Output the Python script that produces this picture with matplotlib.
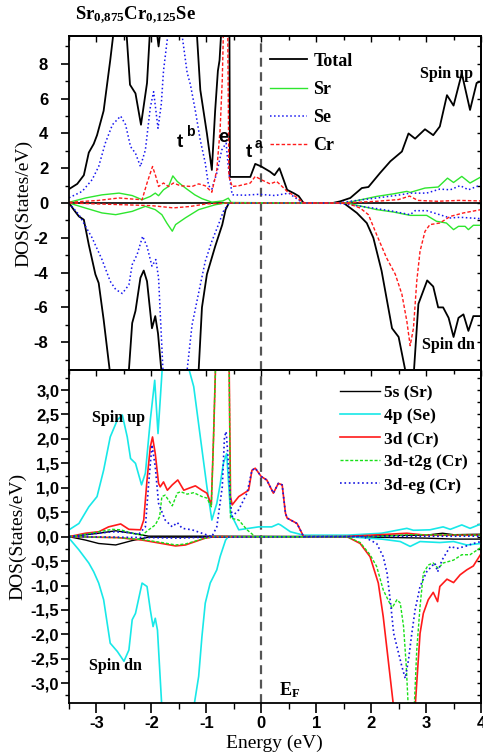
import numpy as np
import matplotlib
matplotlib.use('Agg')
import matplotlib.pyplot as plt
from matplotlib.ticker import MultipleLocator, FuncFormatter

plt.rcParams['font.family'] = 'Liberation Serif'
plt.rcParams['font.weight'] = 'bold'
plt.rcParams['axes.unicode_minus'] = False
plt.rcParams['mathtext.fontset'] = 'custom'
plt.rcParams['mathtext.bf'] = 'Liberation Serif:bold'
plt.rcParams['mathtext.rm'] = 'Liberation Serif:bold'
plt.rcParams['mathtext.it'] = 'Liberation Serif:bold'

# ---- top panel: total and atom-projected DOS (energy, DOS) ----
total_up = [(-3.5, 0.8), (-3.35, 1.1), (-3.23, 1.6), (-3.14, 2.9), (-3.05, 3.4), (-2.99, 3.9),
            (-2.87, 5.3), (-2.75, 8.2), (-2.69, 9.8), (-2.6, 12), (-2.5, 12), (-2.45, 9.6),
            (-2.39, 6.8), (-2.29, 6.3), (-2.19, 4.5), (-2.08, 6.9), (-2.03, 9.7), (-1.95, 12),
            (-1.9, 9.8), (-1.87, 9.0), (-1.84, 9.8), (-1.75, 13), (-1.4, 14), (-1.2, 12),
            (-1.17, 9.6), (-1.11, 6.5), (-0.99, 4.0), (-0.9, 1.9), (-0.84, 5.3), (-0.79, 7.6),
            (-0.76, 8.2), (-0.73, 9.8), (-0.65, 14), (-0.58, 9.8), (-0.57, 1.5), (-0.53, 1.5),
            (-0.2, 1.5), (-0.11, 2.25), (0.0, 2.1), (0.16, 1.8), (0.24, 1.6), (0.33, 2.0),
            (0.41, 1.3), (0.47, 0.76), (0.6, 0.55), (0.68, 0.4), (0.77, 0.0), (1.3, 0.0),
            (1.44, 0.1), (1.62, 0.29), (1.83, 0.86), (1.95, 0.92), (2.16, 1.72), (2.35, 2.4),
            (2.56, 2.96), (2.68, 4.0), (2.8, 3.7), (2.98, 4.24), (3.13, 3.9), (3.25, 4.4),
            (3.38, 6.2), (3.5, 5.6), (3.65, 7.45), (3.8, 5.35), (3.92, 6.9), (4.0, 7.0)]
total_dn = [(-3.5, 0.0), (-3.41, -0.4), (-3.32, -0.77), (-3.23, -0.96), (-3.14, -2.4), (-3.02, -4.1),
            (-2.96, -4.6), (-2.87, -6.7), (-2.76, -9.6), (-2.6, -12), (-2.45, -12), (-2.41, -9.6),
            (-2.35, -6.9), (-2.29, -6.2), (-2.2, -4.3), (-2.14, -3.88), (-2.08, -4.5), (-1.99, -7.2),
            (-1.93, -6.5), (-1.88, -7.5), (-1.82, -9.6), (-1.7, -13), (-1.3, -13), (-1.14, -9.6),
            (-1.08, -6.0), (-0.99, -4.1), (-0.84, -2.5), (-0.71, -1.24), (-0.65, -0.38), (-0.59, 0.0),
            (1.5, 0.0), (1.74, -0.57), (1.92, -1.15), (2.04, -2.0), (2.19, -3.9), (2.38, -7.2),
            (2.5, -7.7), (2.62, -9.6), (2.7, -12), (2.78, -9.6), (2.86, -5.8), (3.02, -4.45),
            (3.13, -4.8), (3.22, -6.0), (3.31, -6.0), (3.41, -6.6), (3.5, -7.7), (3.59, -6.6),
            (3.68, -6.4), (3.77, -7.35), (3.86, -6.5), (4.0, -6.5)]
sr_up = [(-3.5, 0.04), (-3.2, 0.29), (-2.9, 0.47), (-2.59, 0.57), (-2.35, 0.43), (-2.17, 0.19),
         (-2.02, 0.38), (-1.93, 0.57), (-1.87, 0.42), (-1.78, 0.76), (-1.69, 0.95), (-1.61, 1.56),
         (-1.53, 1.24), (-1.38, 0.86), (-1.21, 0.47), (-1.08, 0.25), (-0.9, 0.05), (-0.7, 0.12),
         (-0.6, 0.28), (-0.55, 0.03), (0.7, 0.0), (1.5, 0.0), (1.68, 0.1), (2.1, 0.38),
         (2.41, 0.53), (2.65, 0.67), (2.71, 0.61), (2.98, 0.86), (3.22, 0.92), (3.39, 1.43),
         (3.5, 1.18), (3.65, 1.53), (3.8, 1.15), (3.98, 1.47), (4.0, 1.47)]
sr_dn = [(-3.5, 0.0), (-3.2, -0.29), (-2.9, -0.57), (-2.65, -0.67), (-2.35, -0.48), (-2.11, -0.19),
         (-1.93, -0.38), (-1.81, -0.67), (-1.72, -1.15), (-1.62, -1.62), (-1.56, -1.24),
         (-1.38, -0.85), (-1.14, -0.38), (-0.84, -0.1), (-0.65, 0.0), (1.56, 0.0), (2.1, -0.38),
         (2.41, -0.52), (2.71, -0.71), (3.01, -0.71), (3.19, -1.05), (3.37, -1.15), (3.5, -1.53),
         (3.59, -1.34), (3.71, -1.34), (3.77, -1.53), (3.86, -1.28), (4.0, -1.28)]
se_up = [(-3.5, 0.3), (-3.26, 0.67), (-3.08, 1.34), (-2.96, 2.1), (-2.84, 3.44), (-2.71, 4.5),
         (-2.56, 5.0), (-2.47, 4.5), (-2.38, 3.24), (-2.29, 2.86), (-2.2, 2.1), (-2.11, 3.05),
         (-2.02, 5.5), (-1.96, 6.4), (-1.88, 4.3), (-1.82, 5.7), (-1.78, 7.6), (-1.7, 9.7),
         (-1.6, 12), (-1.5, 11), (-1.44, 9.6), (-1.35, 7.5), (-1.29, 6.8), (-1.2, 5.3),
         (-1.11, 3.6), (-1.02, 2.3), (-0.96, 1.0), (-0.9, 0.8), (-0.81, 1.72), (-0.72, 3.05),
         (-0.64, 3.44), (-0.59, 1.72), (-0.53, 0.47), (-0.3, 0.45), (-0.05, 0.5), (0.25, 0.43),
         (0.5, 0.57), (0.62, 0.3), (0.74, 0.04), (0.8, 0.0), (1.4, 0.0), (1.62, 0.1), (2.1, 0.29),
         (2.53, 0.47), (2.71, 0.57), (3.01, 0.57), (3.25, 0.8), (3.44, 0.76), (3.62, 1.0),
         (3.77, 0.76), (4.0, 1.05)]
se_dn = [(-3.5, 0.0), (-3.32, -0.67), (-3.08, -2.0), (-2.9, -3.25), (-2.75, -4.5), (-2.65, -4.97),
         (-2.53, -5.2), (-2.41, -4.7), (-2.35, -3.54), (-2.26, -2.96), (-2.16, -1.91), (-2.08, -2.5),
         (-1.99, -3.63), (-1.92, -3.25), (-1.87, -4.3), (-1.79, -9.6), (-1.7, -12), (-1.45, -12),
         (-1.35, -9.6), (-1.26, -7.0), (-1.11, -4.7), (-1.02, -3.35), (-0.9, -2.2), (-0.78, -1.24),
         (-0.69, -0.48), (-0.59, 0.0), (1.4, 0.0), (1.5, -0.06), (2.04, -0.29), (2.41, -0.48),
         (2.71, -0.67), (2.8, -0.44), (3.01, -0.44), (3.44, -0.86), (3.62, -0.82), (4.0, -0.9)]
cr_up = [(-3.5, 0.04), (-2.96, 0.15), (-2.59, 0.29), (-2.35, 0.23), (-2.17, 0.19), (-2.08, 1.15),
         (-1.98, 2.1), (-1.92, 1.53), (-1.87, 0.95), (-1.78, 1.15), (-1.69, 0.95), (-1.6, 1.15),
         (-1.47, 0.99), (-1.26, 0.95), (-1.14, 1.1), (-1.02, 0.99), (-0.9, 0.62), (-0.81, 1.9),
         (-0.75, 4.2), (-0.71, 7.1), (-0.69, 9.8), (-0.65, 12), (-0.61, 9.8), (-0.59, 1.53),
         (-0.53, 0.95), (-0.41, 0.99), (-0.2, 1.15), (-0.11, 1.53), (0.0, 1.34), (0.16, 1.1),
         (0.28, 1.24), (0.38, 0.95), (0.47, 0.67), (0.62, 0.38), (0.74, 0.09), (0.8, 0.0),
         (1.5, 0.0), (2.1, 0.1), (2.5, 0.2), (2.7, 0.4), (2.85, 0.15), (3.2, 0.1), (3.6, 0.15),
         (4.0, 0.12)]
cr_dn = [(-3.5, 0.0), (-2.5, -0.1), (-2.0, -0.15), (-1.6, -0.28), (-1.3, -0.2), (-1.0, -0.05),
         (-0.6, 0.0), (1.56, 0.0), (1.8, -0.29), (1.95, -0.67), (2.1, -1.82), (2.28, -3.15),
         (2.44, -4.1), (2.56, -5.25), (2.65, -6.8), (2.71, -8.2), (2.77, -7.2), (2.83, -4.5),
         (2.89, -2.77), (2.98, -1.63), (3.07, -1.24), (3.25, -1.15), (3.44, -0.77), (3.68, -0.57),
         (4.0, -0.38)]

# ---- bottom panel: orbital-projected DOS ----
s5_up = [(-3.5, 0.0), (-2.96, 0.07), (-2.65, 0.12), (-2.35, 0.07), (-2.05, 0.01), (-1.0, 0.01),
         (1.0, 0.0), (2.0, 0.02), (3.0, 0.03), (3.3, 0.07), (3.5, 0.04), (4.0, 0.05)]
s5_dn = [(-3.5, 0.0), (-3.2, -0.07), (-2.96, -0.14), (-2.65, -0.17), (-2.35, -0.08), (-2.05, -0.01),
         (-1.0, -0.01), (1.0, 0.0), (2.0, -0.01), (3.0, -0.03), (3.5, -0.05), (4.0, -0.05)]
p4_up = [(-3.5, 0.14), (-3.32, 0.27), (-3.14, 0.61), (-2.99, 0.82), (-2.87, 1.36), (-2.75, 2.04),
         (-2.62, 2.39), (-2.53, 2.49), (-2.44, 2.04), (-2.38, 1.6), (-2.29, 1.5), (-2.18, 1.06),
         (-2.11, 1.3), (-2.02, 2.39), (-1.94, 3.2), (-1.88, 2.11), (-1.84, 2.8), (-1.8, 3.5),
         (-1.6, 4.5), (-1.4, 4.0), (-1.31, 3.4), (-1.23, 3.07), (-1.11, 2.04), (-0.99, 1.02),
         (-0.9, 0.34), (-0.81, 0.68), (-0.75, 1.06), (-0.69, 1.5), (-0.63, 1.7), (-0.56, 0.48),
         (-0.41, 0.14), (-0.05, 0.2), (0.19, 0.2), (0.31, 0.26), (0.35, 0.24), (0.53, 0.1),
         (0.77, 0.03), (1.56, 0.03), (2.19, 0.07), (2.65, 0.17), (2.77, 0.13), (3.07, 0.14),
         (3.31, 0.2), (3.44, 0.15), (3.65, 0.24), (3.8, 0.17), (4.0, 0.26)]
p4_dn = [(-3.5, -0.03), (-3.32, -0.27), (-3.14, -0.54), (-3.05, -0.72), (-2.96, -0.95),
         (-2.87, -1.29), (-2.75, -2.18), (-2.62, -2.35), (-2.5, -2.55), (-2.41, -2.32),
         (-2.35, -1.7), (-2.29, -1.57), (-2.17, -0.95), (-2.08, -1.02), (-2.02, -1.5),
         (-1.97, -1.84), (-1.93, -1.67), (-1.89, -1.91), (-1.81, -3.5), (-1.7, -4.5),
         (-1.35, -4.5), (-1.23, -3.5), (-1.14, -2.86), (-1.08, -2.04), (-1.02, -1.36),
         (-0.93, -0.95), (-0.81, -0.68), (-0.75, -0.41), (-0.65, -0.07), (-0.6, 0.0), (1.56, 0.0),
         (2.19, -0.05), (2.53, -0.1), (2.71, -0.2), (2.89, -0.1), (3.25, -0.12), (3.5, -0.1),
         (3.74, -0.17), (4.0, -0.14)]
d3_up = [(-3.5, 0.0), (-3.2, 0.07), (-2.96, 0.1), (-2.78, 0.2), (-2.56, 0.26), (-2.41, 0.15),
         (-2.2, 0.14), (-2.14, 0.34), (-2.08, 1.16), (-2.02, 1.84), (-1.98, 2.04), (-1.93, 1.7),
         (-1.87, 1.09), (-1.84, 1.02), (-1.78, 1.12), (-1.71, 0.95), (-1.62, 1.06), (-1.52, 1.16),
         (-1.41, 0.95), (-1.32, 0.99), (-1.2, 1.04), (-1.08, 0.95), (-0.99, 0.89), (-0.91, 0.65),
         (-0.87, 2.0), (-0.82, 4.0), (-0.76, 7.0), (-0.72, 11), (-0.66, 12), (-0.61, 10),
         (-0.59, 4.0), (-0.56, 0.82), (-0.53, 0.65), (-0.41, 0.82), (-0.23, 0.95), (-0.17, 1.36),
         (-0.11, 1.4), (0.0, 1.23), (0.1, 1.16), (0.22, 0.89), (0.31, 1.09), (0.38, 1.06),
         (0.44, 0.48), (0.47, 0.38), (0.65, 0.27), (0.74, 0.07), (0.77, 0.0), (1.5, 0.0),
         (2.0, 0.03), (2.65, 0.07), (3.0, 0.03), (4.0, 0.03)]
d3_dn = [(-3.5, 0.0), (-2.6, -0.02), (-2.17, -0.07), (-1.81, -0.14), (-1.56, -0.19), (-1.38, -0.17),
         (-1.2, -0.1), (-1.02, -0.03), (-0.85, 0.0), (1.56, 0.0), (1.8, -0.14), (1.98, -0.41),
         (2.13, -0.95), (2.22, -1.64), (2.31, -2.52), (2.41, -3.5), (2.5, -5.0), (2.62, -7.0),
         (2.71, -8.2), (2.77, -6.0), (2.8, -3.5), (2.89, -1.98), (2.95, -1.57), (3.04, -1.29),
         (3.13, -1.14), (3.21, -1.33), (3.25, -1.02), (3.38, -0.87), (3.5, -0.94), (3.62, -0.78),
         (3.74, -0.68), (3.86, -0.6), (4.0, -0.35)]
t2g_up = [(-3.5, 0.0), (-3.2, 0.05), (-2.96, 0.1), (-2.71, 0.15), (-2.56, 0.14), (-2.35, 0.07),
          (-2.17, 0.03), (-2.05, 0.14), (-1.93, 0.24), (-1.85, 0.41), (-1.81, 0.82), (-1.75, 0.85),
          (-1.62, 0.63), (-1.53, 0.89), (-1.47, 0.92), (-1.35, 0.87), (-1.23, 0.9), (-1.08, 0.82),
          (-0.99, 0.79), (-0.91, 0.61), (-0.87, 2.0), (-0.82, 4.0), (-0.72, 8.0), (-0.66, 9.0),
          (-0.61, 8.0), (-0.59, 4.0), (-0.56, 0.38), (-0.41, 0.34), (-0.26, 0.14), (-0.11, 0.0),
          (2.0, 0.0), (2.7, 0.04), (4.0, 0.03)]
t2g_dn = [(-3.5, 0.0), (-2.6, -0.02), (-2.17, -0.06), (-1.81, -0.12), (-1.56, -0.17), (-1.38, -0.15),
          (-1.2, -0.09), (-1.02, -0.03), (-0.85, 0.0), (1.56, 0.0), (1.8, -0.12), (1.98, -0.37),
          (2.1, -0.61), (2.22, -1.09), (2.38, -1.46), (2.47, -1.29), (2.53, -1.36), (2.59, -1.84),
          (2.64, -2.66), (2.68, -3.6), (2.73, -4.2), (2.78, -3.6), (2.83, -2.32), (2.89, -1.43),
          (2.95, -0.75), (3.04, -0.58), (3.13, -0.54), (3.22, -0.65), (3.31, -0.54), (3.5, -0.48),
          (3.65, -0.37), (3.8, -0.37), (4.0, -0.22)]
eg_up = [(-3.5, 0.0), (-2.96, 0.07), (-2.71, 0.1), (-2.47, 0.09), (-2.23, 0.05), (-2.11, 0.2),
         (-2.05, 1.09), (-1.99, 1.88), (-1.93, 1.43), (-1.87, 0.68), (-1.75, 0.34), (-1.62, 0.2),
         (-1.53, 0.29), (-1.44, 0.17), (-1.26, 0.14), (-1.08, 0.07), (-0.9, 0.0), (-0.81, 0.2),
         (-0.71, 1.02), (-0.67, 2.04), (-0.64, 2.15), (-0.61, 1.7), (-0.56, 0.68), (-0.53, 0.41),
         (-0.41, 0.55), (-0.26, 0.89), (-0.17, 1.36), (-0.11, 1.4), (0.0, 1.23), (0.1, 1.16),
         (0.22, 0.89), (0.31, 1.09), (0.38, 1.06), (0.44, 0.48), (0.47, 0.38), (0.65, 0.27),
         (0.74, 0.07), (0.77, 0.0), (4.0, 0.01)]
eg_dn = [(-3.5, 0.0), (-2.0, -0.02), (-1.5, -0.03), (-1.0, -0.01), (1.86, 0.0), (2.1, -0.14),
         (2.22, -0.41), (2.29, -0.75), (2.36, -1.43), (2.41, -1.98), (2.5, -2.39), (2.56, -2.66),
         (2.62, -2.9), (2.68, -2.52), (2.74, -1.98), (2.8, -1.5), (2.89, -1.02), (3.01, -0.72),
         (3.1, -0.61), (3.16, -0.54), (3.21, -0.72), (3.29, -0.48), (3.44, -0.2), (3.56, -0.24),
         (3.71, -0.2), (3.86, -0.14), (4.0, -0.1)]


def xy(pts):
    a = np.array(pts, dtype=float)
    return a[:, 0], a[:, 1]


fig = plt.figure(figsize=(4.83, 7.55), dpi=100)
ax1 = fig.add_axes([0.1429, 0.5099, 0.853, 0.4424])
ax2 = fig.add_axes([0.1429, 0.0685, 0.853, 0.4414])

# top panel
ax1.axhline(0, color='black', lw=1.2, zorder=1)
top_series = [
    ('Total', total_up, total_dn, dict(color='black', lw=1.3)),
    ('Sr', sr_up, sr_dn, dict(color='#2ee62e', lw=1.0)),
    ('Se', se_up, se_dn, dict(color='#1515f0', lw=1.1, ls=':')),
    ('Cr', cr_up, cr_dn, dict(color='#ff1a1a', lw=1.0, dashes=(2.5, 1.5))),
]
handles1 = []
for name, up, dn, st in top_series:
    h, = ax1.plot(*xy(up), label=name, **st)
    ax1.plot(*xy(dn), **st)
    handles1.append(h)

# bottom panel
bot_series = [
    ('5s (Sr)', s5_up, s5_dn, dict(color='black', lw=1.0)),
    ('4p (Se)', p4_up, p4_dn, dict(color='#18e8e8', lw=1.2)),
    ('3d (Cr)', d3_up, d3_dn, dict(color='#ff1a1a', lw=1.2)),
    ('3d-t2g (Cr)', t2g_up, t2g_dn, dict(color='#18e018', lw=1.0, dashes=(2.2, 1.3))),
    ('3d-eg (Cr)', eg_up, eg_dn, dict(color='#1515e0', lw=1.2, ls=':')),
]
handles2 = []
for name, up, dn, st in bot_series:
    h, = ax2.plot(*xy(up), label=name, **st)
    ax2.plot(*xy(dn), **st)
    handles2.append(h)

for ax in (ax1, ax2):
    ax.axvline(0, color='#555555', lw=1.6, dashes=(4, 2.5), zorder=0)
    ax.set_xlim(-3.5, 4)
    ax.xaxis.set_major_locator(MultipleLocator(1))
    ax.xaxis.set_minor_locator(MultipleLocator(0.5))
    ax.tick_params(axis='y', which='major', direction='out', length=6, width=1.2)
    ax.tick_params(axis='y', which='minor', direction='out', length=3, width=1.0)
    ax.tick_params(axis='x', which='major', direction='out', length=7, width=1.2)
    ax.tick_params(axis='x', which='minor', direction='out', length=4, width=1.0)
    ax.tick_params(which='both', labelsize=12, labelfontfamily='Liberation Sans')
    for s in ax.spines.values():
        s.set_linewidth(1.3)

ax1.set_ylim(-9.6, 9.6)
ax1.yaxis.set_major_locator(MultipleLocator(2))
ax1.yaxis.set_minor_locator(MultipleLocator(1))
ax1.yaxis.set_major_formatter(FuncFormatter(lambda v, p: f'{v:g}'))
ax1.tick_params(axis='y', pad=9)
ax1.tick_params(axis='x', which='both', bottom=False, labelbottom=False)

ax2.set_ylim(-3.41, 3.41)
ax2.yaxis.set_major_locator(MultipleLocator(0.5))
ax2.yaxis.set_minor_locator(MultipleLocator(0.25))
ax2.yaxis.set_major_formatter(FuncFormatter(lambda v, p: f'{v:.1f}'.replace('.', ',')))
ax2.tick_params(axis='y', pad=1)
ax2.tick_params(axis='x', pad=2)

# mirrored inward ticks on right and top
for ax, ymaj, ymin in ((ax1, 2, 1), (ax2, 0.5, 0.25)):
    sy = ax.secondary_yaxis('right')
    sy.yaxis.set_major_locator(MultipleLocator(ymaj))
    sy.yaxis.set_minor_locator(MultipleLocator(ymin))
    sy.tick_params(which='both', direction='in', length=3, width=1.0, labelright=False)
    sy.spines['right'].set_linewidth(1.3)
    sx = ax.secondary_xaxis('top')
    sx.xaxis.set_major_locator(MultipleLocator(1))
    sx.xaxis.set_minor_locator(MultipleLocator(0.5))
    sx.tick_params(which='major', direction='in', length=4, width=1.0, labeltop=False)
    sx.tick_params(which='minor', direction='in', length=3, width=1.0, labeltop=False)
    sx.spines['top'].set_linewidth(1.3)

ax1.set_ylabel('DOS(States/eV)', fontsize=14)
ax1.yaxis.set_label_coords(-0.088, 0.5)
ax2.set_ylabel('DOS(States/eV)', fontsize=14)
ax2.yaxis.set_label_coords(-0.104, 0.5)
ax2.set_xlabel('Energy (eV)', fontsize=14, va='top')
ax2.xaxis.set_label_coords(0.4976, -0.093)

leg_font = dict(family='Liberation Serif', weight='bold')
ax1.legend(handles=handles1, loc='upper left', bbox_to_anchor=(0.488, 0.95), frameon=False,
           prop=dict(size=13, **leg_font), handlelength=2.05, handletextpad=0.35,
           labelspacing=0.62, borderpad=0, borderaxespad=0)
ax2.legend(handles=handles2, loc='upper left', bbox_to_anchor=(0.658, 0.955), frameon=False,
           prop=dict(size=12.5, **leg_font), handlelength=2.3, handletextpad=0.2,
           labelspacing=0.4, borderpad=0, borderaxespad=0)

# annotations
sans = dict(family='Liberation Sans', weight='bold')
ax1.text(-1.53, 3.23, 't', fontsize=13.5, **sans)
ax1.text(-1.37, 3.85, 'b', fontsize=10, **sans)
ax1.text(-0.78, 3.5, 'e', fontsize=13.5, **sans)
ax1.text(-0.29, 2.65, 't', fontsize=13.5, **sans)
ax1.text(-0.13, 3.15, 'a', fontsize=10, **sans)
ax1.text(2.89, 7.2, 'Spin up', fontsize=11.5)
ax1.text(2.93, -8.4, 'Spin dn', fontsize=11.5)
ax2.text(-3.09, 2.35, 'Spin up', fontsize=11.5)
ax2.text(-3.13, -2.73, 'Spin dn', fontsize=11.5)
ax2.text(0.33, -3.24, r'$\mathbf{E_F}$', fontsize=13)

fig.text(75 / 483, 1 - 19 / 755, r'$\mathbf{Sr_{0{,}875}Cr_{0{,}125}Se}$', fontsize=13.5)

fig.savefig('out.png', dpi=100)
